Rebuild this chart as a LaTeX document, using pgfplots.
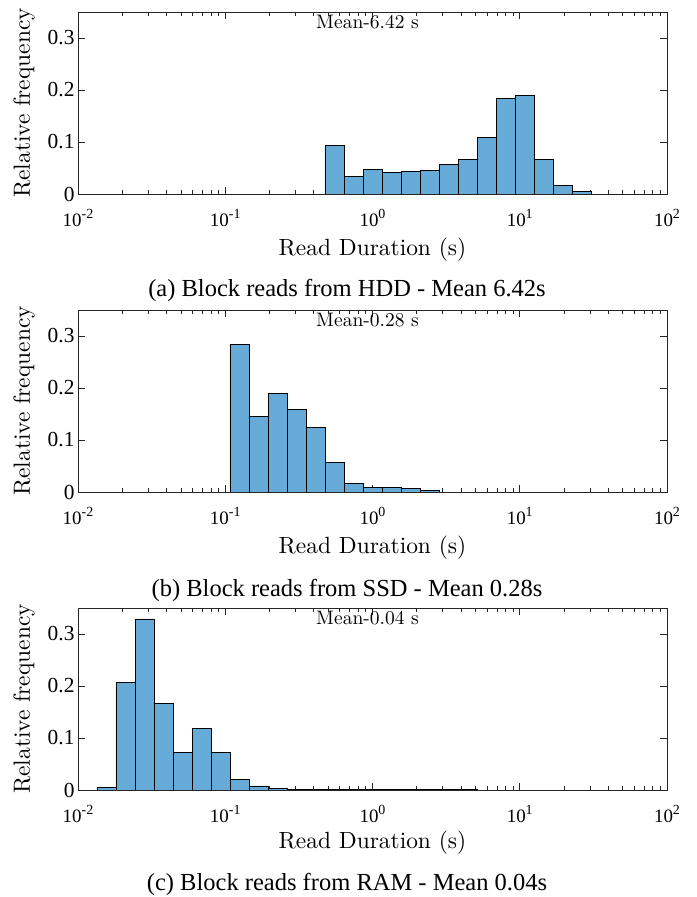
\documentclass[border=0pt]{standalone}
\usepackage{fontspec}
\newfontfamily\tm{Liberation Serif}
\newfontfamily\lmten{lmroman10-regular.otf}
\usepackage{pgfplots}
\pgfplotsset{compat=1.18}
\definecolor{barblue}{RGB}{102,170,215}
\definecolor{axgray}{RGB}{38,38,38}
\newcommand{\ten}[1]{{\tm\fontsize{19}{22}\selectfont 10\raisebox{8.5bp}{\fontsize{14}{16}\selectfont #1}}}
\pgfplotsset{
 myhistax/.style={
  scale only axis, width=589bp, height=182bp, anchor=south west,
  xmin=0.01, xmax=100, ymin=0, ymax=0.35,
  xtick={0.01,0.1,1,10,100}, xticklabels={\ten{-2},\ten{-1},\ten{0},\ten{1},\ten{2}},
  ytick={0,0.1,0.2,0.3}, yticklabels={0,0.1,0.2,0.3},
  yticklabel style={font=\tm\fontsize{21.5}{24}\selectfont},
  xticklabel style={anchor=base, yshift=-33bp},
  tick align=inside, major tick length=7bp, minor tick length=4bp,
  axis line style={axgray, line width=0.8bp},
  every tick/.style={axgray, line width=0.8bp},
  xlabel={Read Duration (s)}, ylabel={Relative frequency},
  every axis x label/.style={at={(axis description cs:0.5,0)}, anchor=base, yshift=-62bp, font=\lmten\fontsize{23.5}{28}\selectfont},
  every axis y label/.style={at={(axis description cs:-0.0917,0.5)}, rotate=90, anchor=center, font=\lmten\fontsize{23.5}{28}\selectfont},
 },
}
\begin{document}
\begin{tikzpicture}
\useasboundingbox (0,0) rectangle (697bp,897bp);
% (a) HDD
\begin{semilogxaxis}[myhistax, at={(78bp,703bp)}]
\addplot[ybar interval, fill=barblue, draw=black, line width=0.8bp] coordinates {(0.4757,0.093) (0.6406,0.033) (0.8627,0.047) (1.1614,0.042) (1.5638,0.044) (2.1057,0.046) (2.8353,0.056) (3.8175,0.067) (5.1404,0.108) (6.9215,0.183) (9.3197,0.190) (12.549,0.067) (16.897,0.017) (22.751,0.005) (30.634,0)};
\node[anchor=base, xshift=-5bp, yshift=-17bp, font=\lmten\fontsize{19.6}{22}\selectfont] at (rel axis cs:0.5,1) {Mean-6.42 s};
\end{semilogxaxis}
% (b) SSD
\begin{semilogxaxis}[myhistax, at={(78bp,405bp)}]
\addplot[ybar interval, fill=barblue, draw=black, line width=0.8bp] coordinates {(0.10772,0.284) (0.14505,0.146) (0.19531,0.190) (0.26300,0.159) (0.35413,0.124) (0.47685,0.057) (0.64210,0.017) (0.86617,0.0096) (1.1639,0.009) (1.5670,0.006) (2.1101,0.0025) (2.8412,0)};
\node[anchor=base, xshift=-5bp, yshift=-17bp, font=\lmten\fontsize{19.6}{22}\selectfont] at (rel axis cs:0.5,1) {Mean-0.28 s};
\end{semilogxaxis}
% (c) RAM
\begin{semilogxaxis}[myhistax, at={(78bp,107bp)}, every axis x label/.append style={yshift=3bp}]
\addplot[ybar interval, fill=barblue, draw=black, line width=0.8bp] coordinates {(0.013459,0.0045) (0.018117,0.206) (0.024391,0.329) (0.032847,0.166) (0.044219,0.073) (0.059566,0.119) (0.080206,0.073) (0.10800,0.0205) (0.14542,0.0077) (0.19580,0.0026) (0.26363,0.0015) (0.35495,0.001) (0.47785,0.0008) (0.64346,0.0006) (0.8665,0.0005) (1.1668,0.0004) (1.5712,0.0003) (2.1157,0.0003) (2.849,0.0002) (3.836,0.0002) (5.166,0)};
\node[anchor=base, xshift=-5bp, yshift=-17bp, font=\lmten\fontsize{19.6}{22}\selectfont] at (rel axis cs:0.5,1) {Mean-0.04 s};
\end{semilogxaxis}
\node[anchor=base, font=\tm\fontsize{24.6}{29}\selectfont] at (347bp,600bp) {(a) Block reads from HDD - Mean 6.42s};
\node[anchor=base, font=\tm\fontsize{24.6}{29}\selectfont] at (347bp,300bp) {(b) Block reads from SSD - Mean 0.28s};
\node[anchor=base, font=\tm\fontsize{24.6}{29}\selectfont] at (347bp,7bp) {(c) Block reads from RAM - Mean 0.04s};
\end{tikzpicture}
\end{document}
